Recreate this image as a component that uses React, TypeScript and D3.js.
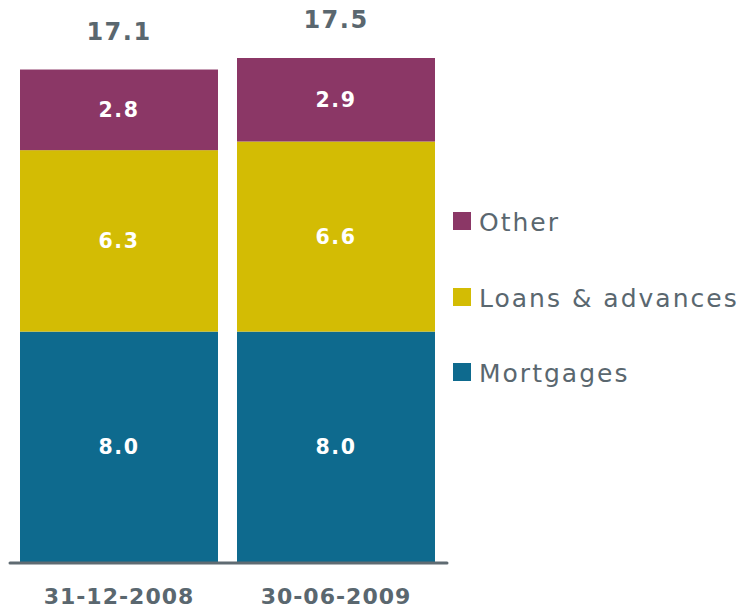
import React from "react";
import * as d3 from "d3";

const categories = ["31-12-2008", "30-06-2009"];
const seriesNames = ["Mortgages", "Loans & advances", "Other"];
const mortgages = [8.0, 8.0];
const loans = [6.3, 6.6];
const other = [2.8, 2.9];
const totals = ["17.1", "17.5"];
const colors = ["#0e6a8e", "#d3bc04", "#8b3766"];

const W = 744;
const H = 609;
const TEXT = "#5a676f";
const FONT = "'DejaVu Sans', Verdana, sans-serif";

export default function App() {
  const x = d3.scaleBand<string>().domain(categories).range([20, 435]).paddingInner(19 / 217).paddingOuter(0);
  const y = d3.scaleLinear().domain([0, 17.5]).range([562, 58]);

  const rows = categories.map((c, i) => ({ cat: c, Mortgages: mortgages[i], "Loans & advances": loans[i], Other: other[i] }));
  const stack = d3.stack<any>().keys(seriesNames);
  const layers = stack(rows);

  const legendItems = [
    { name: "Other", color: colors[2], y: 231 },
    { name: "Loans & advances", color: colors[1], y: 307 },
    { name: "Mortgages", color: colors[0], y: 382 },
  ];

  return (
    <div style={{ position: "absolute", left: 0, top: 0 }}>
      <svg width={W} height={H} style={{ display: "block" }}>
        <rect width={W} height={H} fill="#ffffff" />
        {layers.map((layer, li) => (
          <g key={li}>
            {layer.map((d, i) => {
              const bx = x(categories[i]) as number;
              const y0 = y(d[0]);
              const y1 = y(d[1]);
              const val = d[1] - d[0];
              return (
                <g key={i}>
                  <rect x={bx} y={y1} width={x.bandwidth()} height={y0 - y1} fill={colors[li]} />
                  <text
                    x={bx + x.bandwidth() / 2}
                    y={(y0 + y1) / 2 + 7.5}
                    textAnchor="middle"
                    fill="#ffffff"
                    fontFamily={FONT}
                    fontWeight="bold"
                    fontSize={20.5}
                    letterSpacing={1.5}
                  >
                    {val.toFixed(1)}
                  </text>
                </g>
              );
            })}
          </g>
        ))}
        {categories.map((c, i) => {
          const top = y(mortgages[i] + loans[i] + other[i]);
          return (
            <text
              key={c}
              x={(x(c) as number) + x.bandwidth() / 2}
              y={top - 30}
              textAnchor="middle"
              fill={TEXT}
              fontFamily={FONT}
              fontWeight="bold"
              fontSize={24}
              letterSpacing={1.5}
            >
              {totals[i]}
            </text>
          );
        })}
        <line x1={10} x2={447} y1={563} y2={563} stroke="#5f6b72" strokeWidth={3} strokeLinecap="round" />
        {categories.map((c) => (
          <text
            key={c}
            x={(x(c) as number) + x.bandwidth() / 2}
            y={604}
            textAnchor="middle"
            fill={TEXT}
            fontFamily={FONT}
            fontWeight="bold"
            fontSize={22}
            letterSpacing={1}
          >
            {c}
          </text>
        ))}
        {legendItems.map((it) => (
          <g key={it.name}>
            <rect x={453} y={it.y - 19} width={18} height={18} fill={it.color} />
            <text x={479} y={it.y} fill={TEXT} fontFamily={FONT} fontSize={25} letterSpacing={2}>
              {it.name}
            </text>
          </g>
        ))}
      </svg>
    </div>
  );
}
